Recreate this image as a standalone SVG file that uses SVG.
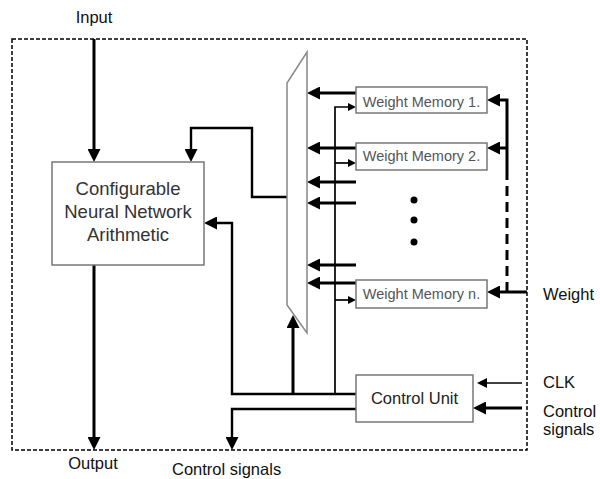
<svg xmlns="http://www.w3.org/2000/svg" width="600" height="479" viewBox="0 0 600 479">
<style>
text{font-family:"Liberation Sans",Arial,sans-serif;}
.lbl{font-size:16.5px;fill:#111;}
.box{fill:#fff;stroke:#777;stroke-width:1.5;}
.wm{font-size:14.5px;fill:#555;text-anchor:middle;}
.thick{fill:none;stroke:#000;stroke-width:3;stroke-linejoin:miter;}
.med{fill:none;stroke:#000;stroke-width:2.4;}
.thin{fill:none;stroke:#000;stroke-width:1.7;}
</style>
<defs>
<marker id="ah" viewBox="0 0 13 13" refX="9" refY="6.5" markerWidth="13" markerHeight="13" markerUnits="userSpaceOnUse" orient="auto"><path d="M0,0 L13,6.5 L0,13 z" fill="#000"/></marker>
<marker id="as" viewBox="0 0 8 8" refX="6" refY="4" markerWidth="8" markerHeight="8" markerUnits="userSpaceOnUse" orient="auto"><path d="M0,0 L8,4 L0,8 z" fill="#000"/></marker>
<marker id="am" viewBox="0 0 10 10" refX="7" refY="5" markerWidth="10" markerHeight="10" markerUnits="userSpaceOnUse" orient="auto"><path d="M0,0 L10,5 L0,10 z" fill="#000"/></marker>
</defs>
<rect x="12" y="39" width="515" height="411" fill="none" stroke="#000" stroke-width="1.5" stroke-dasharray="4 2"/>
<g id="labels">
<text class="lbl" x="94" y="23" text-anchor="middle">Input</text>
<text class="lbl" x="93" y="469" text-anchor="middle">Output</text>
<text class="lbl" x="172" y="475">Control signals</text>
<text class="lbl" x="543" y="300">Weight</text>
<text class="lbl" x="543" y="388">CLK</text>
<text class="lbl" x="543" y="417">Control</text>
<text class="lbl" x="543" y="435">signals</text>
</g>
<g id="connectors">
<line class="thick" x1="94" y1="39" x2="94" y2="158" marker-end="url(#ah)"/>
<line class="thick" x1="94" y1="265" x2="94" y2="446" marker-end="url(#ah)"/>
<polyline class="med" points="287,197 252,197 252,128 191,128 191,158" marker-end="url(#ah)"/>
<polyline class="med" points="356,394 232,394 232,223 208,223" marker-end="url(#ah)"/>
<line class="thick" x1="293" y1="394" x2="293" y2="319" marker-end="url(#ah)"/>
<polyline class="med" points="356,409 232,409 232,446" marker-end="url(#ah)"/>
<polyline class="thin" points="335,394 335,107 354,107" marker-end="url(#as)"/>
<line class="thin" x1="335" y1="163" x2="354" y2="163" marker-end="url(#as)"/>
<line class="thin" x1="335" y1="300" x2="354" y2="300" marker-end="url(#as)"/>
<line class="thick" x1="356" y1="93" x2="311" y2="93" marker-end="url(#ah)"/>
<line class="thick" x1="356" y1="148" x2="311" y2="148" marker-end="url(#ah)"/>
<line class="thick" x1="356" y1="182" x2="311" y2="182" marker-end="url(#ah)"/>
<line class="thick" x1="356" y1="203" x2="311" y2="203" marker-end="url(#ah)"/>
<line class="thick" x1="356" y1="265" x2="311" y2="265" marker-end="url(#ah)"/>
<line class="thick" x1="356" y1="283" x2="311" y2="283" marker-end="url(#ah)"/>
<polyline class="thick" points="507,170 507,100 491,100" marker-end="url(#ah)"/>
<line class="thick" x1="507" y1="148" x2="491" y2="148" marker-end="url(#ah)"/>
<line class="thick" x1="507" y1="170" x2="507" y2="292" stroke-dasharray="10 6"/>
<line class="thick" x1="527" y1="292" x2="491" y2="292" marker-end="url(#ah)"/>
<line class="thin" x1="522" y1="383" x2="480" y2="383" marker-end="url(#am)"/>
<line class="thick" x1="522" y1="408" x2="477" y2="408" marker-end="url(#ah)"/>
</g>
<g id="nn">
<rect class="box" x="52" y="162" width="152" height="103"/>
<text x="128" y="195" font-size="18.5" fill="#333" text-anchor="middle">Configurable</text>
<text x="128" y="218" font-size="18.5" fill="#333" text-anchor="middle">Neural Network</text>
<text x="128" y="241" font-size="18.5" fill="#333" text-anchor="middle">Arithmetic</text>
</g>
<g id="mux">
<polygon points="307,52 307,333 287,305 287,83" fill="#fff" stroke="#888" stroke-width="1.5"/>
</g>
<g id="wm1">
<rect class="box" x="356" y="87" width="131" height="26"/>
<text class="wm" x="421.5" y="107">Weight Memory 1.</text>
</g>
<g id="wm2">
<rect class="box" x="356" y="143" width="131" height="27"/>
<text class="wm" x="421.5" y="161">Weight Memory 2.</text>
</g>
<g id="dots">
<circle cx="414" cy="200" r="3.5" fill="#000"/>
<circle cx="414" cy="220" r="3.5" fill="#000"/>
<circle cx="414" cy="242" r="3.5" fill="#000"/>
</g>
<g id="wmn">
<rect class="box" x="356" y="280" width="131" height="28"/>
<text class="wm" x="421.5" y="299">Weight Memory n.</text>
</g>
<g id="cu">
<rect class="box" x="356" y="375" width="117" height="47"/>
<text x="414.5" y="404" font-size="16.5" fill="#222" text-anchor="middle">Control Unit</text>
</g>
</svg>
